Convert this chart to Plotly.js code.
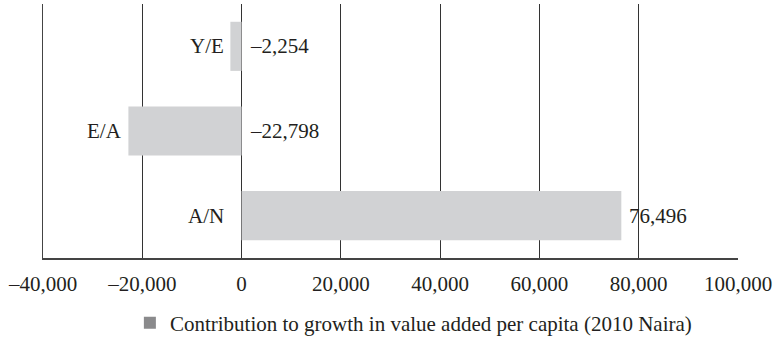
<!DOCTYPE html>
<html><head><meta charset="utf-8">
<script src="https://cdn.plot.ly/plotly-3.0.1.min.js"></script>
<style>html,body{margin:0;padding:0;background:#fff}</style>
</head><body>
<div id="chart" style="width:776px;height:338px"></div>
<script>
const categories = ["A/N", "E/A", "Y/E"];
const values = [76496, -22798, -2254];
const valueLabels = ["76,496", "\u201322,798", "\u20132,254"];
const tickVals = [-40000, -20000, 0, 20000, 40000, 60000, 80000, 100000];
const tickText = ["\u201340,000", "\u201320,000", "0", "20,000", "40,000", "60,000", "80,000", "100,000"];
const seriesName = "Contribution to growth in value added per capita (2010 Naira)";

const FONT = "Liberation Serif, Times New Roman, serif";
const FS = 21;
const annotations = [];
categories.forEach((c, i) => {
  const v = values[i];
  annotations.push({x: Math.min(v, 0), y: c, text: c, xanchor: "right", yanchor: "middle",
    showarrow: false, xshift: v < 0 ? -4 : -16, font: {family: FONT, size: FS, color: "#231f20"}});
  annotations.push({x: Math.max(v, 0), y: c, text: valueLabels[i], xanchor: "left", yanchor: "middle",
    showarrow: false, xshift: 6, font: {family: FONT, size: FS, color: "#231f20"}});
});

const trace = {
  type: "bar", orientation: "h", y: categories, x: values, name: seriesName,
  width: 0.58, marker: {color: "#d1d2d4"}, hoverinfo: "skip", showlegend: true
};

const layout = {
  width: 776, height: 338,
  margin: {l: 43, r: 38, t: 4, b: 80, autoexpand: false},
  paper_bgcolor: "#fff", plot_bgcolor: "#fff",
  font: {family: FONT, size: FS, color: "#231f20"},
  showlegend: true,
  legend: {orientation: "h", x: 0.125, xanchor: "left", y: -0.256, yanchor: "middle",
    font: {family: FONT, size: FS, color: "#231f20"}, bgcolor: "rgba(0,0,0,0)"},
  xaxis: {range: [-40000, 100000], tickvals: tickVals, ticktext: tickText,
    showgrid: true, gridcolor: "#333", gridwidth: 1, zeroline: false, automargin: false,
    showline: true, linecolor: "#444", linewidth: 1.5, ticks: "", ticklabelstandoff: 6, fixedrange: true},
  yaxis: {type: "category", categoryorder: "array", categoryarray: categories,
    range: [-0.5, 2.5], showticklabels: false, showgrid: false, zeroline: false, automargin: false,
    showline: true, linecolor: "#444", linewidth: 1.5, ticks: "", fixedrange: true},
  annotations: annotations
};

Plotly.newPlot("chart", [trace], layout, {displayModeBar: false, staticPlot: true}).then(() => {
  document.querySelectorAll(".legend .legendpoints path").forEach(p => {
    p.style.fill = "#8a8a8c";
  });
});
</script>
</body></html>
